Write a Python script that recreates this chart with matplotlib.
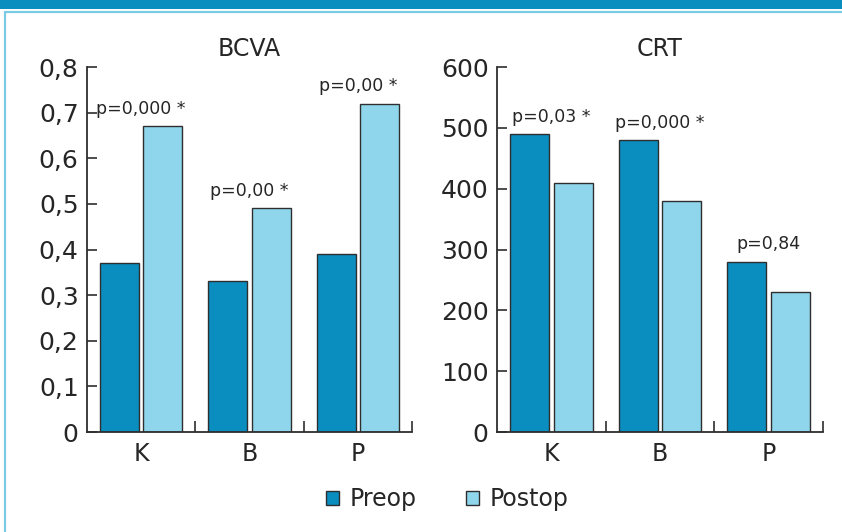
import matplotlib

matplotlib.use("Agg")
import matplotlib.pyplot as plt
import numpy as np
from matplotlib.patches import Patch, Rectangle

categories = ["K", "B", "P"]
series_names = ["Preop", "Postop"]

bcva_preop = [0.37, 0.33, 0.39]
bcva_postop = [0.67, 0.49, 0.72]
bcva_p = ["p=0,000 *", "p=0,00 *", "p=0,00 *"]
bcva_ticks = [0, 0.1, 0.2, 0.3, 0.4, 0.5, 0.6, 0.7, 0.8]
bcva_ticklabels = ["0", "0,1", "0,2", "0,3", "0,4", "0,5", "0,6", "0,7", "0,8"]

crt_preop = [490, 480, 280]
crt_postop = [410, 380, 230]
crt_p = ["p=0,03 *", "p=0,000 *", "p=0,84"]
crt_ticks = [0, 100, 200, 300, 400, 500, 600]
crt_ticklabels = ["0", "100", "200", "300", "400", "500", "600"]

PREOP = "#0a8dbf"
POSTOP = "#8fd6ec"
EDGE = "#2e2e2e"
TEXT = "#262626"
BAND = "#0a8dbf"
FRAME = "#7ccbe4"

plt.rcParams["font.family"] = ["DejaVu Sans"]

fig = plt.figure(figsize=(8.42, 5.32), dpi=100)
fig.patch.set_facecolor("white")

# header band and light frame
fig.add_artist(Rectangle((0, 1 - 9 / 532), 1, 9 / 532, transform=fig.transFigure,
                         facecolor=BAND, edgecolor="none"))
fig.add_artist(Rectangle((5 / 842, -0.05), 1.2, 1 - 12 / 532 + 0.05, transform=fig.transFigure,
                         facecolor="none", edgecolor=FRAME, linewidth=1.6))

ax1 = fig.add_axes([87 / 842, 100 / 532, 325 / 842, 365 / 532])
ax2 = fig.add_axes([497 / 842, 100 / 532, 326 / 842, 365 / 532])


def draw(ax, preop, postop, pvals, ticks, ticklabels, ymax, title):
    x = np.arange(len(categories)) + 0.5
    w = 0.36
    ax.bar(x - 0.2, preop, w, color=PREOP, edgecolor=EDGE, linewidth=1.0)
    ax.bar(x + 0.2, postop, w, color=POSTOP, edgecolor=EDGE, linewidth=1.0)
    for xi, a, b, p in zip(x, preop, postop, pvals):
        ax.annotate(p, (xi, max(a, b)), xytext=(0, 6), textcoords="offset points",
                    ha="center", va="bottom", fontsize=12.5, color=TEXT)
    ax.set_xlim(0, len(categories))
    ax.set_ylim(0, ymax)
    ax.set_yticks(ticks)
    ax.set_yticklabels(ticklabels)
    ax.set_xticks(np.arange(1, len(categories) + 1))
    ax.set_xticklabels([])
    ax.set_xticks(x, minor=True)
    ax.set_xticklabels(categories, minor=True)
    ax.tick_params(axis="y", direction="in", length=7, width=1.2, color=EDGE,
                   labelsize=18, labelcolor=TEXT, pad=6)
    ax.tick_params(axis="x", which="major", direction="in", length=8, width=1.2, color=EDGE)
    ax.tick_params(axis="x", which="minor", length=0, labelsize=17, labelcolor=TEXT, pad=7)
    for s in ["top", "right"]:
        ax.spines[s].set_visible(False)
    for s in ["left", "bottom"]:
        ax.spines[s].set_color(EDGE)
        ax.spines[s].set_linewidth(1.3)
    ax.set_title(title, fontsize=17, color=TEXT, pad=8)


draw(ax1, bcva_preop, bcva_postop, bcva_p, bcva_ticks, bcva_ticklabels, 0.8, "BCVA")
draw(ax2, crt_preop, crt_postop, crt_p, crt_ticks, crt_ticklabels, 600, "CRT")

handles = [Patch(facecolor=c, edgecolor=EDGE, linewidth=1.0) for c in (PREOP, POSTOP)]
fig.legend(handles, series_names, loc="center", bbox_to_anchor=(447 / 842, 33 / 532), ncol=2,
           frameon=False, fontsize=17, handlelength=0.55, handleheight=0.55,
           handletextpad=0.45, columnspacing=2.1, labelcolor=TEXT)

fig.savefig("out.png", dpi=100)
